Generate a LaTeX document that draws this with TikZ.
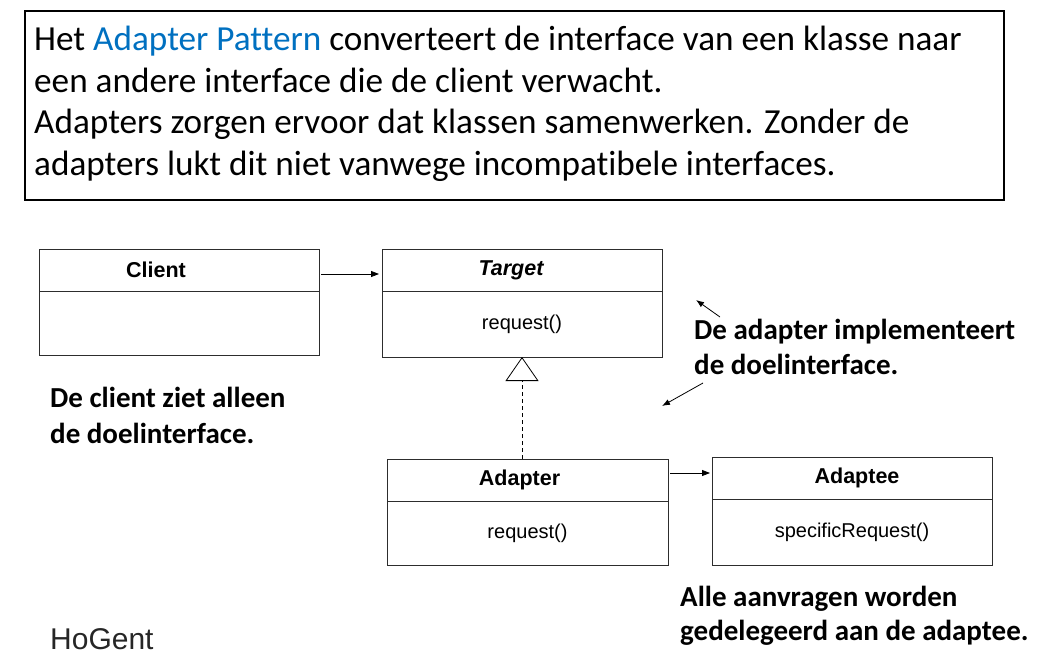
\documentclass[tikz,border=0pt]{standalone}
\usepackage{fontspec}
\setmainfont{Carlito}[Ligatures=NoCommon]
\newfontfamily\umlfont{Liberation Sans}
\usepackage{xcolor}
\usetikzlibrary{positioning,calc,arrows.meta}

\definecolor{patternblue}{RGB}{0,112,192}
\definecolor{umlline}{RGB}{45,45,45}

\tikzset{
    classhead/.style={draw=umlline, line width=0.8pt, minimum width=280pt, minimum height=42pt, inner sep=0pt, outer sep=0pt, font=\umlfont\fontsize{21.5}{24}\selectfont\bfseries},
    classbody/.style={draw=umlline, line width=0.8pt, minimum width=280pt, minimum height=64pt, inner sep=0pt, outer sep=0pt, font=\umlfont\fontsize{20}{24}\selectfont},
    introline/.style={anchor=base west, inner sep=0pt, font=\fontsize{35.2}{42}\selectfont},
    remark/.style={anchor=base west, inner sep=0pt, font=\fontsize{29}{35}\selectfont\bfseries},
    assoc/.style={line width=0.8pt, -{Triangle[length=8pt,width=6pt]}},
    realize/.style={line width=0.8pt, dash pattern=on 4pt off 3pt, -{Triangle[open,length=24pt,width=33pt]}},
    pointer/.style={line width=0.8pt, -{Latex[length=8pt,width=6pt]}}
}

\begin{document}
\begin{tikzpicture}[x=1pt, y=-1pt]
    \useasboundingbox (0,0) rectangle (1041,659);

    % Intro box
    \node [draw, line width=2.5pt, minimum width=979pt, minimum height=189pt, inner sep=0pt, anchor=north west] (intro) at (23.5,9.5) {};
    \node [introline] (line1) at (34,50) {Het \textcolor{patternblue}{Adapter Pattern} converteert de interface van een klasse naar};
    \node [introline] (line2) at (34,92) {een andere interface die de client verwacht.};
    \node [introline] (line3) at (34,133) {Adapters zorgen ervoor dat klassen samenwerken. Zonder de};
    \node [introline] (line4) at (34,175) {adapters lukt dit niet vanwege incompatibele interfaces.};

    % Classes
    \node [classhead] (clienth) at (179,270) {Client\hspace*{46pt}};
    \node [classbody, below=0pt of clienth] (clientb) {};
    \node [classhead] (targeth) at (522,270) {\itshape Target\hspace*{22pt}};
    \node [classbody, minimum height=66pt, below=0pt of targeth] (targetb) {request()};
    \node [classhead, minimum width=281pt] (adapterh) at (527.5,480) {Adapter\hspace*{16pt}};
    \node [classbody, minimum width=281pt, below=0pt of adapterh] (adapterb) {request()};
    \node [classhead] (adapteeh) at (852,478) {\hspace*{10pt}Adaptee};
    \node [classbody, minimum height=66pt, below=0pt of adapteeh] (adapteeb) {specificRequest()};

    % Relations
    \draw [assoc] ([yshift=-4pt]clienth.east) ++(2,0) -- ([yshift=-4pt,xshift=-3pt]targeth.west |- clienth.east);
    \draw [assoc] ([yshift=7pt,xshift=2pt]adapterh.east) -- ([yshift=7pt,xshift=-2pt]adapteeh.west |- adapterh.east);
    \draw [realize] (adapterh.north -| targetb.south) -- (targetb.south);

    % Remarks
    \node [remark] (clientnote1) at (50,407) {De client ziet alleen};
    \node [remark] (clientnote2) at (50,443) {de doelinterface.};
    \node [remark] (implnote1) at (694,339) {De adapter implementeert};
    \node [remark] (implnote2) at (694,374) {de doelinterface.};
    \node [remark] (delegnote1) at (680,606) {Alle aanvragen worden};
    \node [remark] (delegnote2) at (680,640) {gedelegeerd aan de adaptee.};
    \coordinate (upfrom) at (720,317);
    \coordinate (upto) at (696,300);
    \coordinate (downfrom) at (703,383);
    \coordinate (downto) at (662,406);
    \draw [pointer] (upfrom) -- (upto);
    \draw [pointer] (downfrom) -- (downto);

    % Logo
    \node [anchor=base west, inner sep=0pt, font=\umlfont\fontsize{30}{36}\selectfont, text=black!85] (logo) at (50,649) {HoGent};
\end{tikzpicture}
\end{document}
